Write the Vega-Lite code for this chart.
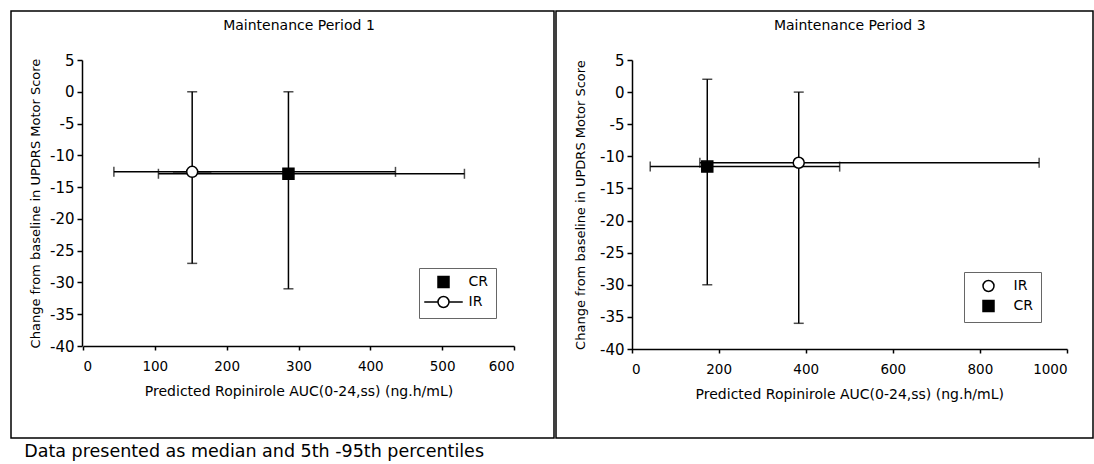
{
  "$schema": "https://vega.github.io/schema/vega-lite/v6.json",
  "padding": {"left": 10, "top": 10, "right": 0, "bottom": 0},
  "autosize": {"type": "pad"},
  "background": "white",
  "config": {
    "font": "DejaVu Sans",
    "view": {"stroke": "black", "strokeWidth": 1.5},
    "concat": {"spacing": 0},
    "legend": {"orient": "none", "title": null, "symbolSize": 121, "symbolStrokeWidth": 1.5, "labelFontSize": 14, "labelColor": "black", "padding": 7, "symbolOffset": 10.5, "labelOffset": 18, "rowPadding": 2, "strokeColor": "#666666", "strokeWidth": 1}
  },
  "title": {
    "text": "Data presented as median and 5th -95th percentiles",
    "orient": "bottom",
    "anchor": "start",
    "fontSize": 17.5,
    "fontWeight": "normal",
    "color": "black",
    "dx": 14,
    "offset": 4
  },
  "datasets": {
    "p1": [
      {"form": "IR", "x": 152, "xlo": 43, "xhi": 435, "y": -12.6, "ylo": -27, "yhi": 0},
      {"form": "CR", "x": 286, "xlo": 105, "xhi": 531, "y": -12.9, "ylo": -31, "yhi": 0}
    ],
    "p3": [
      {"form": "IR", "x": 384, "xlo": 157, "xhi": 936, "y": -11.0, "ylo": -36, "yhi": 0},
      {"form": "CR", "x": 174, "xlo": 43, "xhi": 478, "y": -11.6, "ylo": -30, "yhi": 2}
    ]
  },
  "spacing": 0,
  "resolve": {
    "scale": {"fill": "independent", "shape": "independent", "stroke": "independent"},
    "legend": {"fill": "independent", "shape": "independent", "stroke": "independent"}
  },
  "hconcat": [
    {
      "width": 543,
      "height": 427,
      "data": {"name": "p1"},
      "resolve": {"axis": {"x": "independent"}},
      "layer": [
        {
          "mark": {"type": "errorbar", "ticks": true, "size": 10, "thickness": 1.5, "color": "black"},
          "encoding": {
            "x": {"field": "x", "type": "quantitative", "title": "Predicted Ropinirole AUC(0-24,ss) (ng.h/mL)",
              "scale": {"domain": [0, 600], "range": [72, 503], "nice": false, "zero": false},
              "axis": {"values": [0, 100, 200, 300, 400, 500, 600], "offset": -92, "grid": false, "domainColor": "black", "domainWidth": 1.5, "tickColor": "black", "tickWidth": 1.5, "tickSize": 4, "labelFontSize": 13.5, "labelColor": "black", "labelPadding": 9, "labelExpr": "'' + datum.value", "titleFontSize": 14, "titleFontWeight": "normal", "titleColor": "black", "titlePadding": 12}},
            "y": {"field": "ylo", "type": "quantitative", "title": "Change from baseline in UPDRS Motor Score",
              "scale": {"domain": [-40, 5], "range": [335, 49], "nice": false, "zero": false},
              "axis": {"values": [5, 0, -5, -10, -15, -20, -25, -30, -35, -40], "offset": -71, "grid": false, "domainColor": "black", "domainWidth": 1.5, "tickColor": "black", "tickWidth": 1.5, "tickSize": 5, "labelFontSize": 15, "labelColor": "black", "labelPadding": 3, "labelExpr": "'' + datum.value", "titleFontSize": 13, "titleFontWeight": "normal", "titleColor": "black", "titlePadding": 7}},
            "y2": {"field": "yhi"}
          }
        },
        {
          "mark": {"type": "errorbar", "ticks": true, "size": 10, "thickness": 1.5, "color": "black"},
          "encoding": {
            "x": {"field": "xlo", "type": "quantitative", "axis": null},
            "x2": {"field": "xhi"},
            "y": {"field": "y", "type": "quantitative", "title": "Change from baseline in UPDRS Motor Score"}
          }
        },
        {
          "mark": {"type": "point", "filled": false, "size": 121, "strokeWidth": 1.5, "opacity": 1},
          "encoding": {
            "x": {"field": "x", "type": "quantitative", "title": "Maintenance Period 1",
              "axis": {"orient": "top", "labels": false, "ticks": false, "domain": false, "grid": false, "offset": -21.5, "titlePadding": 0, "titleFontSize": 14, "titleFontWeight": "normal", "titleColor": "black"}},
            "y": {"field": "y", "type": "quantitative", "title": "Change from baseline in UPDRS Motor Score"},
            "shape": {"field": "form", "type": "nominal", "scale": {"domain": ["CR", "IR"], "range": ["square", "M-3.5,0L-1,0M1,0L3.5,0M-1,0A1,1,0,1,1,1,0A1,1,0,1,1,-1,0Z"]},
              "legend": {"legendX": 408, "legendY": 257}},
            "fill": {"field": "form", "type": "nominal", "scale": {"domain": ["CR", "IR"], "range": ["black", "white"]},
              "legend": {"legendX": 408, "legendY": 257}},
            "stroke": {"field": "form", "type": "nominal", "scale": {"domain": ["CR", "IR"], "range": ["black", "black"]},
              "legend": {"legendX": 408, "legendY": 257}}
          }
        }
      ]
    },
    {
      "width": 537,
      "height": 427,
      "data": {"name": "p3"},
      "resolve": {"axis": {"x": "independent"}},
      "layer": [
        {
          "mark": {"type": "errorbar", "ticks": true, "size": 10, "thickness": 1.5, "color": "black"},
          "encoding": {
            "x": {"field": "x", "type": "quantitative", "title": "Predicted Ropinirole AUC(0-24,ss) (ng.h/mL)",
              "scale": {"domain": [0, 1000], "range": [75.5, 511], "nice": false, "zero": false},
              "axis": {"values": [0, 200, 400, 600, 800, 1000], "offset": -89, "grid": false, "domainColor": "black", "domainWidth": 1.5, "tickColor": "black", "tickWidth": 1.5, "tickSize": 4, "labelFontSize": 13.5, "labelColor": "black", "labelPadding": 9, "labelExpr": "'' + datum.value", "titleFontSize": 14, "titleFontWeight": "normal", "titleColor": "black", "titlePadding": 12}},
            "y": {"field": "ylo", "type": "quantitative", "title": "Change from baseline in UPDRS Motor Score",
              "scale": {"domain": [-40, 5], "range": [338, 49], "nice": false, "zero": false},
              "axis": {"values": [5, 0, -5, -10, -15, -20, -25, -30, -35, -40], "offset": -76, "grid": false, "domainColor": "black", "domainWidth": 1.5, "tickColor": "black", "tickWidth": 1.5, "tickSize": 5, "labelFontSize": 15, "labelColor": "black", "labelPadding": 3, "labelExpr": "'' + datum.value", "titleFontSize": 13, "titleFontWeight": "normal", "titleColor": "black", "titlePadding": 12}},
            "y2": {"field": "yhi"}
          }
        },
        {
          "mark": {"type": "errorbar", "ticks": true, "size": 10, "thickness": 1.5, "color": "black"},
          "encoding": {
            "x": {"field": "xlo", "type": "quantitative", "axis": null},
            "x2": {"field": "xhi"},
            "y": {"field": "y", "type": "quantitative", "title": "Change from baseline in UPDRS Motor Score"}
          }
        },
        {
          "mark": {"type": "point", "filled": false, "size": 121, "strokeWidth": 1.5, "opacity": 1},
          "encoding": {
            "x": {"field": "x", "type": "quantitative", "title": "Maintenance Period 3",
              "axis": {"orient": "top", "labels": false, "ticks": false, "domain": false, "grid": false, "offset": -21.5, "titlePadding": 0, "titleFontSize": 14, "titleFontWeight": "normal", "titleColor": "black"}},
            "y": {"field": "y", "type": "quantitative", "title": "Change from baseline in UPDRS Motor Score"},
            "shape": {"field": "form", "type": "nominal", "scale": {"domain": ["IR", "CR"], "range": ["circle", "square"]},
              "legend": {"legendX": 408, "legendY": 261}},
            "fill": {"field": "form", "type": "nominal", "scale": {"domain": ["IR", "CR"], "range": ["white", "black"]},
              "legend": {"legendX": 408, "legendY": 261}},
            "stroke": {"field": "form", "type": "nominal", "scale": {"domain": ["IR", "CR"], "range": ["black", "black"]},
              "legend": {"legendX": 408, "legendY": 261}}
          }
        }
      ]
    }
  ]
}
